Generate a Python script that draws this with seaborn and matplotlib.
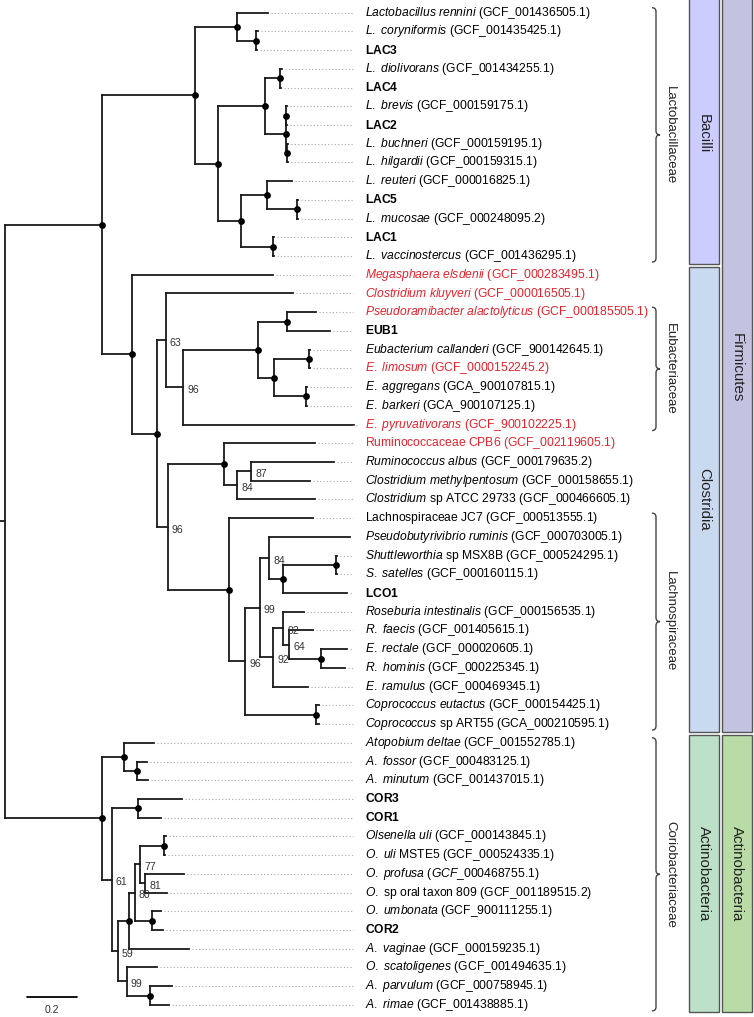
import re
import pandas as pd
import matplotlib
matplotlib.use('Agg')
import matplotlib.pyplot as plt
from matplotlib.path import Path
from matplotlib.patches import PathPatch, Rectangle
from matplotlib.collections import LineCollection
import seaborn as sns

# ------------------------------------------------------------
# TREE DATA (branch lengths, bar = 0.2)
# internal node names are bootstrap values
# ------------------------------------------------------------
LACTO = ("((rennini:0.125,(coryniformis:0.006,LAC3:0.004):0.077):0.167,"
         "(((diolivorans:0.008,LAC4:0.004):0.06,((brevis:0.004,LAC2:0.004):0.001,"
         "(buchneri:0.005,hilgardii:0.005):0.004):0.083):0.188,"
         "((reuteri:0.1,(LAC5:0.002,mucosae:0.002):0.12):0.104,"
         "(LAC1:0.004,vaccinostercus:0.004):0.128):0.092):0.092):0.373")
CLOST = ("(megasphaera:0.564,((kluyveri:0.508,(((pseudoramibacter:0.116,EUB1:0.172):0.116,"
         "((callanderi:0.004,limosum:0.004):0.14,(aggregans:0.004,barkeri:0.004):0.128):0.064):0.3,"
         "pyruvativorans:0.684)96:0.068)63:0.036,((CPB6:0.364,((albus:0.332,methylpentosum:0.236)87:0.056,"
         "ATCC:0.312)84:0.052):0.224,(JC7:0.336,(((pseudobutyrivibrio:0.324,((shuttleworthia:0.004,"
         "satelles:0.004):0.212,LCO1:0.256):0.056)84:0.036,((roseburia:0.084,(faecis:0.096,"
         "(rectale:0.104,hominis:0.096):0.128)64:0.024)92:0.04,ramulus:0.14)92:0.052)99:0.06,"
         "(eutactus:0.012,ART55:0.012):0.284)96:0.064):0.244)96:0.044):0.1):0.121")
ACTINO = ("((deltae:0.12,(fossor:0.04,minutum:0.044):0.052):0.089,((COR3:0.176,COR1:0.092):0.104,"
          "(((((uli:0.008,MSTE5:0.004):0.096,(profusa:0.156,oral809:0.088)81:0.02)77:0.022,"
          "(umbonata:0.038,COR2:0.046):0.068)80:0.021,vaginae:0.239):0.047,"
          "(scatoligenes:0.121,(parvulum:0.088,rimae:0.076):0.093)99:0.037)59:0.022)61:0.041):0.387")
NEWICK = "((" + LACTO + "," + CLOST + "):0.387," + ACTINO + ");"

# *italic*, **bold**
leaf_labels = {
    'rennini': '*Lactobacillus rennini* (GCF_001436505.1)',
    'coryniformis': '*L. coryniformis* (GCF_001435425.1)',
    'LAC3': '**LAC3**',
    'diolivorans': '*L. diolivorans* (GCF_001434255.1)',
    'LAC4': '**LAC4**',
    'brevis': '*L. brevis* (GCF_000159175.1)',
    'LAC2': '**LAC2**',
    'buchneri': '*L. buchneri* (GCF_000159195.1)',
    'hilgardii': '*L. hilgardii* (GCF_000159315.1)',
    'reuteri': '*L. reuteri* (GCF_000016825.1)',
    'LAC5': '**LAC5**',
    'mucosae': '*L. mucosae* (GCF_000248095.2)',
    'LAC1': '**LAC1**',
    'vaccinostercus': '*L. vaccinostercus* (GCF_001436295.1)',
    'megasphaera': '*Megasphaera elsdenii* (GCF_000283495.1)',
    'kluyveri': '*Clostridium kluyveri* (GCF_000016505.1)',
    'pseudoramibacter': '*Pseudoramibacter alactolyticus* (GCF_000185505.1)',
    'EUB1': '**EUB1**',
    'callanderi': '*Eubacterium callanderi* (GCF_900142645.1)',
    'limosum': '*E. limosum* (GCF_0000152245.2)',
    'aggregans': '*E. aggregans* (GCA_900107815.1)',
    'barkeri': '*E. barkeri* (GCA_900107125.1)',
    'pyruvativorans': '*E. pyruvativorans* (GCF_900102225.1)',
    'CPB6': 'Ruminococcaceae CPB6 (GCF_002119605.1)',
    'albus': '*Ruminococcus albus* (GCF_000179635.2)',
    'methylpentosum': '*Clostridium methylpentosum* (GCF_000158655.1)',
    'ATCC': '*Clostridium* sp ATCC 29733 (GCF_000466605.1)',
    'JC7': 'Lachnospiraceae JC7 (GCF_000513555.1)',
    'pseudobutyrivibrio': '*Pseudobutyrivibrio ruminis* (GCF_000703005.1)',
    'shuttleworthia': '*Shuttleworthia* sp MSX8B (GCF_000524295.1)',
    'satelles': '*S. satelles* (GCF_000160115.1)',
    'LCO1': '**LCO1**',
    'roseburia': '*Roseburia intestinalis* (GCF_000156535.1)',
    'faecis': '*R. faecis* (GCF_001405615.1)',
    'rectale': '*E. rectale* (GCF_000020605.1)',
    'hominis': '*R. hominis* (GCF_000225345.1)',
    'ramulus': '*E. ramulus* (GCF_000469345.1)',
    'eutactus': '*Coprococcus eutactus* (GCF_000154425.1)',
    'ART55': '*Coprococcus* sp ART55 (GCA_000210595.1)',
    'deltae': '*Atopobium deltae* (GCF_001552785.1)',
    'fossor': '*A. fossor* (GCF_000483125.1)',
    'minutum': '*A. minutum* (GCF_001437015.1)',
    'COR3': '**COR3**',
    'COR1': '**COR1**',
    'uli': '*Olsenella uli* (GCF_000143845.1)',
    'MSTE5': '*O. uli* MSTE5 (GCF_000524335.1)',
    'profusa': '*O. profusa (GCF_000468755.1)*',
    'oral809': '*O.* sp oral taxon 809 (GCF_001189515.2)',
    'umbonata': '*O. umbonata* (GCF_900111255.1)',
    'COR2': '**COR2**',
    'vaginae': '*A. vaginae* (GCF_000159235.1)',
    'scatoligenes': '*O. scatoligenes* (GCF_001494635.1)',
    'parvulum': '*A. parvulum* (GCF_000758945.1)',
    'rimae': '*A. rimae* (GCF_001438885.1)',
}
red_leaves = ['megasphaera', 'kluyveri', 'pseudoramibacter', 'limosum', 'pyruvativorans', 'CPB6']

families = ['Lactobacillaceae', 'Eubacteriaceae', 'Lachnospiraceae', 'Coriobacteriaceae']
family_span = [('rennini', 'vaccinostercus'), ('pseudoramibacter', 'pyruvativorans'),
               ('JC7', 'ART55'), ('deltae', 'rimae')]
classes = ['Bacilli', 'Clostridia', 'Actinobacteria']
class_span = [('rennini', 'vaccinostercus'), ('megasphaera', 'ART55'), ('deltae', 'rimae')]
phyla = ['Firmicutes', 'Actinobacteria']
phylum_span = [('rennini', 'ART55'), ('deltae', 'rimae')]

class_colors = ['#ccccff', '#c9d9f0', '#bde0c9']
phylum_colors = ['#c3c3e1', '#b9dca7']


# ------------------------------------------------------------
# PARSE + LAYOUT
# ------------------------------------------------------------
def parse_newick(s):
    pos = 0

    def node():
        nonlocal pos
        children = []
        if s[pos] == '(':
            pos += 1
            children.append(node())
            while s[pos] == ',':
                pos += 1
                children.append(node())
            pos += 1
        m = re.match(r"([^:,();]*)(?::([0-9.]+))?", s[pos:])
        pos += m.end()
        return {'name': m.group(1), 'length': float(m.group(2) or 0), 'children': children}

    return node()


leaves = []
internal = []


def layout(n, x0):
    n['x'] = x0 + n['length']
    if n['children']:
        for c in n['children']:
            layout(c, n['x'])
        n['y'] = (n['children'][0]['y'] + n['children'][-1]['y']) / 2
        internal.append(n)
    else:
        n['y'] = len(leaves)
        leaves.append(n)


root = parse_newick(NEWICK)
layout(root, 0.0)
leaf_y = {n['name']: n['y'] for n in leaves}

# pixel helpers (figure is 754 x 1017 px, 250 px per unit, 18.72 px per leaf)
PX_UNIT, Y0, DY = 250.0, 12.7, 18.72


def px2x(p):
    return (p - 5) / PX_UNIT


def px2y(p):
    return (p - Y0) / DY


def to_mathtext(markup):
    # *x* -> \mathit, **x** -> \mathbf, rest -> \mathrm
    out = []
    for part in re.split(r"(\*\*[^*]+\*\*|\*[^*]+\*)", markup):
        if not part:
            continue
        if part.startswith('**'):
            cmd, txt = 'mathbf', part[2:-2]
        elif part.startswith('*'):
            cmd, txt = 'mathit', part[1:-1]
        else:
            cmd, txt = 'mathrm', part
        txt = txt.replace('_', r'\_').replace(' ', r'\ ')
        out.append('\\%s{%s}' % (cmd, txt))
    return '$' + ''.join(out) + '$'


# ------------------------------------------------------------
# FIGURE
# ------------------------------------------------------------
sns.set_theme(style='white')
plt.rcParams['font.family'] = ['Liberation Sans', 'DejaVu Sans']
plt.rcParams['mathtext.fontset'] = 'custom'
plt.rcParams['mathtext.rm'] = 'Liberation Sans'
plt.rcParams['mathtext.it'] = 'Liberation Sans:italic'
plt.rcParams['mathtext.bf'] = 'Liberation Sans:bold'

fig = plt.figure(figsize=(7.54, 10.17), dpi=100)
ax = fig.add_axes([0, 0, 1, 1])
ax.set_xlim(px2x(0), px2x(754))
ax.set_ylim(px2y(1017), px2y(0))
ax.axis('off')

# branches
segs = [[(-0.02, root['y']), (0, root['y'])]]
for n in internal:
    segs.append([(n['x'], n['children'][0]['y']), (n['x'], n['children'][-1]['y'])])
    for c in n['children']:
        segs.append([(n['x'], c['y']), (c['x'], c['y'])])
ax.add_collection(LineCollection(segs, colors='#1a1a1a', linewidths=1.3, capstyle='projecting'))

# dotted leaders
LEAD_END, LABEL_X = px2x(353), px2x(365)
lead = [[(n['x'] + 0.012, n['y']), (LEAD_END, n['y'])] for n in leaves]
ax.add_collection(LineCollection(lead, colors='#a8a8a8', linewidths=0.8, linestyles=(0, (1, 2))))

# node dots (full support nodes)
dots = pd.DataFrame([(n['x'], n['y']) for n in internal if n is not root and not n['name']],
                    columns=['x', 'y'])
sns.scatterplot(data=dots, x='x', y='y', ax=ax, color='black', s=24, linewidth=0, zorder=3, legend=False)

# bootstrap values
for n in internal:
    if n['name']:
        ax.text(n['x'] + px2x(9), n['y'] + 0.15, n['name'], fontsize=7.6, color='#333333',
                va='center', ha='left')

# leaf labels
for n in leaves:
    col = '#e8212b' if n['name'] in red_leaves else 'black'
    ax.text(LABEL_X, n['y'], to_mathtext(leaf_labels[n['name']]), fontsize=8.75, color=col,
            va='center', ha='left')


# curly braces for families
def brace(y0, y1, x=656, w=4):
    ym = (y0 + y1) / 2
    pts = [(x - w, y0), (x, y0), (x, y0 + w), (x, ym - w), (x, ym), (x + w, ym),
           (x, ym), (x, ym + w), (x, y1 - w), (x, y1), (x - w, y1)]
    codes = [Path.MOVETO, Path.CURVE3, Path.CURVE3, Path.LINETO, Path.CURVE3, Path.CURVE3,
             Path.CURVE3, Path.CURVE3, Path.LINETO, Path.CURVE3, Path.CURVE3]
    verts = [(px2x(a), px2y(b)) for a, b in pts]
    ax.add_patch(PathPatch(Path(verts, codes), fill=False, edgecolor='#444444', lw=1.0))


for name, (a, b) in zip(families, family_span):
    y0 = Y0 + leaf_y[a] * DY - 5
    y1 = Y0 + leaf_y[b] * DY + 6
    brace(y0, y1)
    ax.text(px2x(670), px2y((y0 + y1) / 2), name, rotation=270, fontsize=9.5,
            ha='center', va='center', color='#222222')


# taxonomy boxes
def box(label, a, b, x0, x1, color):
    ya = leaf_y[a] - 0.5 + 0.1 if leaf_y[a] > 0 else -2
    yb = leaf_y[b] + 0.5 - 0.1
    ax.add_patch(Rectangle((px2x(x0), ya), px2x(x1) - px2x(x0), yb - ya,
                           facecolor=color, edgecolor='#555555', lw=1.0))
    ax.text((px2x(x0) + px2x(x1)) / 2, (max(ya, -0.5) + yb) / 2, label, rotation=270,
            fontsize=10.8, ha='center', va='center', color='#222222')


for name, (a, b), col in zip(classes, class_span, class_colors):
    box(name, a, b, 689, 719, col)
for name, (a, b), col in zip(phyla, phylum_span, phylum_colors):
    box(name, a, b, 722, 752, col)

# scale bar
sb_x, sb_y = px2x(27), px2y(997)
ax.plot([sb_x, sb_x + 0.2], [sb_y, sb_y], color='black', lw=1.3)
ax.text(sb_x + 0.1, px2y(1010), '0.2', fontsize=7.6, ha='center', va='center', color='#333333')

plt.savefig('out.png', dpi=100)
